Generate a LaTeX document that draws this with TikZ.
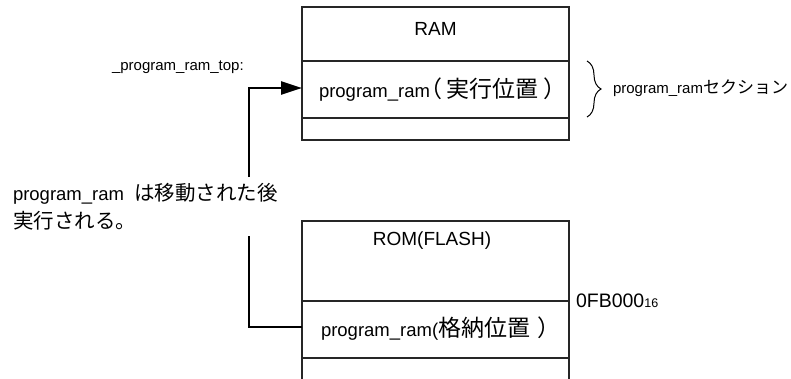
\documentclass[tikz,border=0pt]{standalone}
\usepackage{fontspec}
\setmainfont{Liberation Sans}
\newfontfamily\jp{Noto Sans CJK JP}
\newfontfamily\jpp[RawFeature=+palt]{Noto Sans CJK JP}
\usetikzlibrary{arrows.meta,decorations.pathreplacing}

% Japanese runs inside Latin text
\newcommand\jpbox[1]{{\jpp\fontsize{23}{26}\selectfont #1}}
\newcommand\jpnote[1]{{\jp\fontsize{20.5}{24}\selectfont #1}}
\newcommand\jpsmall[1]{{\jp\fontsize{17}{20}\selectfont #1}}

\begin{document}
\begin{tikzpicture}[x=1pt,y=-1pt,
  cell/.style={draw=black!85, line width=1.2pt, inner sep=0pt, outer sep=0pt,
               minimum width=267pt, anchor=north west},
  txt/.style={inner sep=0pt, outer sep=0pt, text=black},
  big/.style={txt, font=\fontsize{18.5}{22}\selectfont},
  small/.style={txt, font=\fontsize{15}{18}\selectfont},
  conn/.style={line width=2.4pt, black},
  tip/.style={-{Triangle[length=21pt,width=13pt]}}
]
\useasboundingbox (0,0) rectangle (791,378);

% RAM map
\node[cell, minimum height=54pt] (ramhead) at (302,7) {};
\node[cell, minimum height=57pt] (ramprog) at (302,61) {};
\node[cell, minimum height=22pt] (ramtail) at (302,118) {};
\node[big, anchor=base, font=\fontsize{19}{22}\selectfont] (ramtitle) at (435.5,35) {RAM};
\node[big, anchor=base west] (ramtext) at (319,97)
  {program\_ram\jpbox{（\kern5pt 実行位置\kern6pt ）}};

% ROM map, open at the bottom
\node[cell, minimum height=80pt] (romhead) at (302,221) {};
\node[cell, minimum height=57pt] (romprog) at (302,301) {};
\draw[draw=black!85, line width=1.2pt] (romprog.south west) -- ++(0,25);
\draw[draw=black!85, line width=1.2pt] (romprog.south east) -- ++(0,25);
\node[big, anchor=base, font=\fontsize{19}{22}\selectfont] (romtitle) at (432,245) {ROM(FLASH)};
\node[big, anchor=base west] (romtext) at (321,336)
  {program\_ram(\jpbox{格納位置\kern8pt ）}};

% labels
\node[small, anchor=base west] (toplabel) at (112,70) {\_program\_ram\_top:};
\node[small, anchor=base west] (seclabel) at (613,93) {program\_ram\jpsmall{セクション}};
\node[txt, anchor=base west, font=\fontsize{19.5}{22}\selectfont] (addr) at (576,307)
  {0FB000{\fontsize{12.5}{14}\selectfont 16}};
\node[big, anchor=base west] (noteA) at (13,200) {program\_ram\hspace{10pt}\jpnote{は移動された後}};
\node[big, anchor=base west] (noteB) at (13,228) {\jpnote{実行される。}};

% section brace
\draw[line width=1pt, decorate, decoration={brace, amplitude=14pt}]
  (587,61) coordinate (bracetop) -- (587,117) coordinate (bracebot);

% copy path from storage to execution area
\coordinate (gaptop) at (249,177);
\coordinate (gapbot) at (249,236);
\draw[conn, tip] (gaptop) |- ([yshift=1.5pt]ramprog.west);
\draw[conn] (gapbot) |- ([yshift=2.5pt]romprog.west);
\end{tikzpicture}
\end{document}
